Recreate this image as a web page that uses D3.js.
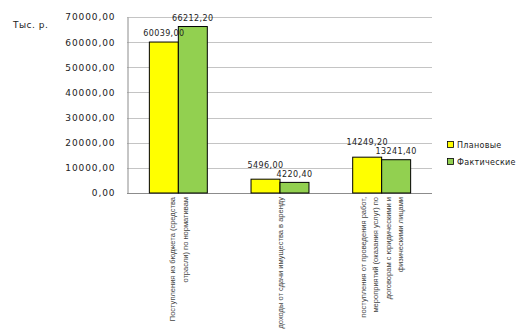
<!DOCTYPE html>
<html><head><meta charset="utf-8">
<script src="https://cdn.jsdelivr.net/npm/d3@7"></script>
<style>body{margin:0;background:#fff;}svg{display:block;}</style>
</head><body>
<svg id="c" width="529" height="332"></svg>
<script>
const categories = [
  ["Поступления из бюджета (средства", "отрасли) по нормативам"],
  ["доходы от сдачи имущества в аренду"],
  ["поступления от проведения работ,", "мероприятий (оказания услуг) по", "договорам с юридическими и", "физическими лицами"]
];
const seriesNames = ["Плановые", "Фактические"];
const planned = [60039.00, 5496.00, 14249.20];
const actual = [66212.20, 4220.40, 13241.40];
const yTicks = [0, 10000, 20000, 30000, 40000, 50000, 60000, 70000];
const colors = ["#FFFF00", "#92D050"];
const unitLabel = "Тыс. р.";

const svg = d3.select("#c");
const fmt = v => d3.format(".2f")(v).replace(".", ",");
const idx = d3.range(categories.length);
const y = d3.scaleLinear().domain([0, 70000]).range([193, 17]);
const x0 = d3.scaleBand().domain(idx).range([127, 432]).paddingInner(0.43).paddingOuter(0.215);
const x1 = d3.scaleBand().domain([0, 1]).range([0, x0.bandwidth()]);

// gridlines
svg.append("g").selectAll("line").data(yTicks.slice(1)).join("line")
  .attr("x1", 127).attr("x2", 432)
  .attr("y1", d => Math.round(y(d)) + 0.5).attr("y2", d => Math.round(y(d)) + 0.5)
  .attr("stroke", "#c4c4c4").attr("stroke-width", 1);

// y axis
const yAxis = d3.axisLeft(y).tickValues(yTicks).tickSize(0).tickPadding(12).tickFormat(fmt);
const gy = svg.append("g").attr("transform", "translate(127.5,0)").call(yAxis);
gy.select(".domain").attr("stroke", "#8c8c8c");
gy.selectAll("text").attr("font-family", "DejaVu Sans, Verdana, sans-serif").attr("font-size", 9)
  .attr("letter-spacing", 0.9).attr("fill", "#222");

// x axis line
svg.append("line").attr("x1", 127).attr("x2", 432).attr("y1", 193.5).attr("y2", 193.5).attr("stroke", "#8c8c8c");

// bars
const groups = svg.append("g").selectAll("g").data(idx).join("g")
  .attr("transform", i => `translate(${x0(i)},0)`);
const series = [planned, actual];
groups.selectAll("rect").data(i => series.map((s, k) => ({k, v: s[i]}))).join("rect")
  .attr("x", d => x1(d.k) + 0.5).attr("width", x1.bandwidth())
  .attr("y", d => y(d.v)).attr("height", d => y(0) - y(d.v))
  .attr("fill", d => colors[d.k]).attr("stroke", "#000").attr("stroke-width", 1);

// value labels (planned label lifted when it would collide with the actual one)
groups.each(function(i) {
  const ab = y(actual[i]) - 5.5;
  let pb = y(planned[i]) - 6;
  if (Math.abs(pb - ab) < 9) pb = ab - 9;
  const g = d3.select(this);
  [[0, planned[i], pb], [1, actual[i], ab]].forEach(([k, v, by]) => {
    g.append("text").attr("x", x1(k) + x1.bandwidth() / 2 + 0.5).attr("y", by)
      .attr("text-anchor", "middle").attr("font-family", "DejaVu Sans, Verdana, sans-serif")
      .attr("font-size", 8).attr("letter-spacing", 0.4).attr("fill", "#222").text(fmt(v));
  });
});

// category labels
const lh = 12.5;
categories.forEach((lines, i) => {
  const cx = x0(i) + x0.bandwidth() / 2 + 1;
  lines.forEach((t, j) => {
    const lx = cx + (j - (lines.length - 1) / 2) * lh;
    svg.append("text").attr("transform", `translate(${lx},197) rotate(-90) scale(0.94,1)`)
      .attr("text-anchor", "end").attr("dominant-baseline", "central")
      .attr("font-family", "Liberation Sans, Arial, sans-serif")
      .attr("font-size", 8).attr("fill", "#444").text(t);
  });
});

// unit label
svg.append("text").attr("x", 13).attr("y", 28).attr("font-family", "DejaVu Sans, Verdana, sans-serif")
  .attr("font-size", 9).attr("letter-spacing", 0.5).attr("fill", "#222").text(unitLabel);

// legend
const lg = svg.append("g").selectAll("g").data(seriesNames).join("g")
  .attr("transform", (d, k) => `translate(447,${141 + k * 17})`);
lg.append("rect").attr("x", 0.5).attr("y", 0.5).attr("width", 6).attr("height", 6)
  .attr("fill", (d, k) => colors[k]).attr("stroke", "#000").attr("stroke-width", 0.8);
lg.append("text").attr("x", 10).attr("y", 7).attr("font-family", "DejaVu Sans, Verdana, sans-serif")
  .attr("font-size", 8).attr("letter-spacing", 0.3).attr("fill", "#222").text(d => d);
</script>
</body></html>
